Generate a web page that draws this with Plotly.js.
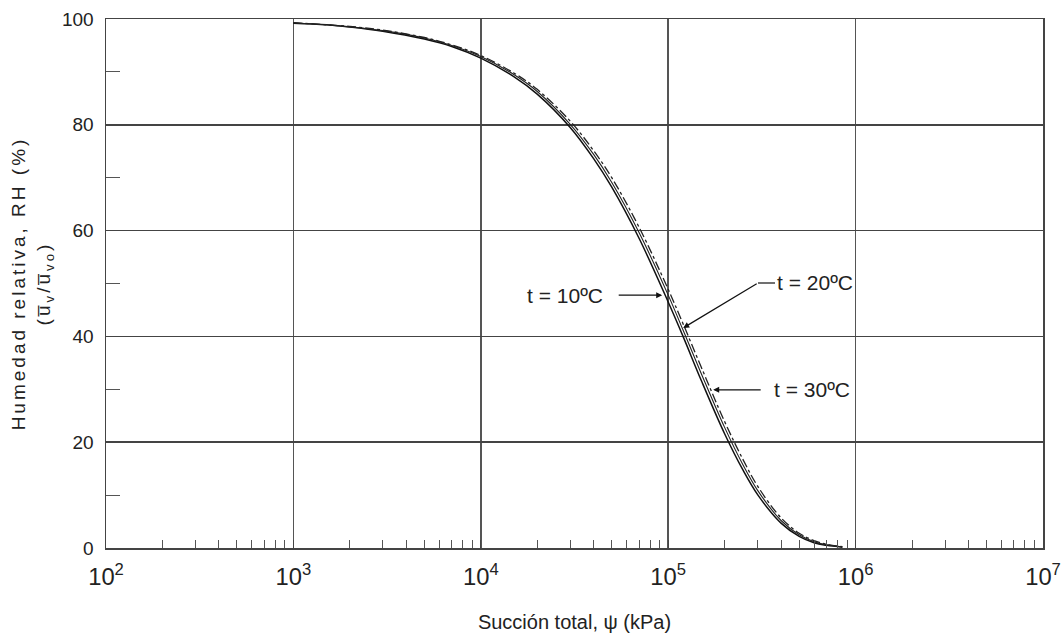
<!DOCTYPE html>
<html>
<head>
<meta charset="utf-8">
<script src="https://cdn.plot.ly/plotly-3.0.1.min.js"></script>
<style>
html,body{margin:0;padding:0;background:#fff;}
#chart{width:1062px;height:633px;}
#chart .g-ytitle text{letter-spacing:3px;}
</style>
</head>
<body>
<div id="chart"></div>
<script>
// Suction values (kPa)
const suction = [1000, 1500, 2000, 3000, 5000, 7000, 10000, 15000, 20000, 30000, 40000, 50000, 70000, 100000, 120000, 150000, 200000, 250000, 300000, 400000, 500000, 600000, 700000, 850000];
// Relative humidity (%) for each temperature
const rh10 = [99.2, 98.9, 98.5, 97.7, 96.2, 94.8, 92.6, 89.1, 85.8, 79.5, 73.6, 68.2, 58.5, 46.5, 40.0, 31.7, 21.6, 14.8, 10.1, 4.7, 2.2, 1.0, 0.5, 0.15];
const rh20 = [99.3, 98.9, 98.5, 97.8, 96.4, 95.0, 92.9, 89.5, 86.3, 80.1, 74.4, 69.1, 59.6, 47.8, 41.2, 33.0, 22.8, 15.8, 10.9, 5.2, 2.5, 1.2, 0.6, 0.2];
const rh30 = [99.3, 98.9, 98.6, 97.9, 96.5, 95.1, 93.1, 89.8, 86.7, 80.7, 75.1, 70.0, 60.6, 48.9, 42.4, 34.2, 23.9, 16.8, 11.7, 5.7, 2.8, 1.4, 0.7, 0.25];
const seriesNames = ['t = 10ºC', 't = 20ºC', 't = 30ºC'];
const yTicks = [0, 20, 40, 60, 80, 100];

const traces = [
  {x: suction, y: rh10, name: seriesNames[0], mode: 'lines', line: {color: '#111', width: 1.5, shape: 'spline'}},
  {x: suction, y: rh20, name: seriesNames[1], mode: 'lines', line: {color: '#222', width: 1.1, shape: 'spline'}},
  {x: suction, y: rh30, name: seriesNames[2], mode: 'lines', line: {color: '#222', width: 1.3, dash: 'dashdot', shape: 'spline'}}
];

const font = {family: 'Liberation Sans, Arial, sans-serif', color: '#222'};
const f = (s) => Object.assign({size: s}, font);

const layout = {
  width: 1062, height: 633,
  margin: {l: 106, r: 19, t: 19, b: 85},
  paper_bgcolor: '#fff', plot_bgcolor: '#fff',
  showlegend: false,
  font: f(15),
  xaxis: {
    type: 'log', range: [2, 7], dtick: 1,
    exponentformat: 'power',
    showgrid: true, gridcolor: '#555', gridwidth: 1.5,
    showline: true, linecolor: '#444', linewidth: 1.5, mirror: true,
    ticks: 'inside', ticklen: 8, tickcolor: '#444',
    minor: {ticks: 'inside', ticklen: 8, tickcolor: '#555', dtick: 'D1', showgrid: false},
    tickfont: f(19),
    ticklabelstandoff: 8,
    zeroline: false,
    title: {text: 'Succión total, ψ (kPa)', font: f(20), standoff: 26}
  },
  yaxis: {
    range: [0, 100],
    tickvals: yTicks,
    showgrid: true, gridcolor: '#444', gridwidth: 1.5,
    showline: true, linecolor: '#444', linewidth: 1.5, mirror: true,
    ticks: 'inside', ticklen: 14, tickcolor: '#444',
    minor: {ticks: 'inside', ticklen: 14, tickcolor: '#555', dtick: 10, tick0: 10, showgrid: false},
    tickfont: f(19),
    ticklabelstandoff: 7,
    zeroline: false,
    title: {text: 'Humedad relativa, RH (%)<br>(u̅<sub>v</sub>/u̅<sub>vo</sub>)', font: f(19), standoff: 6}
  },
  shapes: [
    {type: 'line', xref: 'paper', yref: 'paper', x0: (758 - 106) / 937, x1: (775 - 106) / 937, y0: (548 - 283) / 529, y1: (548 - 283) / 529, line: {color: '#111', width: 1.2}}
  ],
  annotations: [
    {x: 4.968, y: 47.8, xref: 'x', yref: 'y', text: '', showarrow: true, arrowhead: 2, arrowsize: 1, arrowwidth: 1.2, arrowcolor: '#111', ax: -45, ay: 0},
    {x: 4.968, y: 47.8, xref: 'x', yref: 'y', text: seriesNames[0], showarrow: false, xanchor: 'right', xshift: -57, font: f(21)},
    {x: 5.080, y: 41.6, xref: 'x', yref: 'y', text: '', showarrow: true, arrowhead: 2, arrowsize: 1, arrowwidth: 1.2, arrowcolor: '#111', ax: 75, ay: -45},
    {x: 5.080, y: 41.6, xref: 'x', yref: 'y', text: seriesNames[1], showarrow: false, xanchor: 'left', xshift: 92, yshift: 45, font: f(21)},
    {x: 5.240, y: 29.9, xref: 'x', yref: 'y', text: '', showarrow: true, arrowhead: 2, arrowsize: 1, arrowwidth: 1.2, arrowcolor: '#111', ax: 49, ay: 0},
    {x: 5.240, y: 29.9, xref: 'x', yref: 'y', text: seriesNames[2], showarrow: false, xanchor: 'left', xshift: 59, font: f(21)}
  ]
};

Plotly.newPlot('chart', traces, layout, {displayModeBar: false, staticPlot: true});
</script>
</body>
</html>
